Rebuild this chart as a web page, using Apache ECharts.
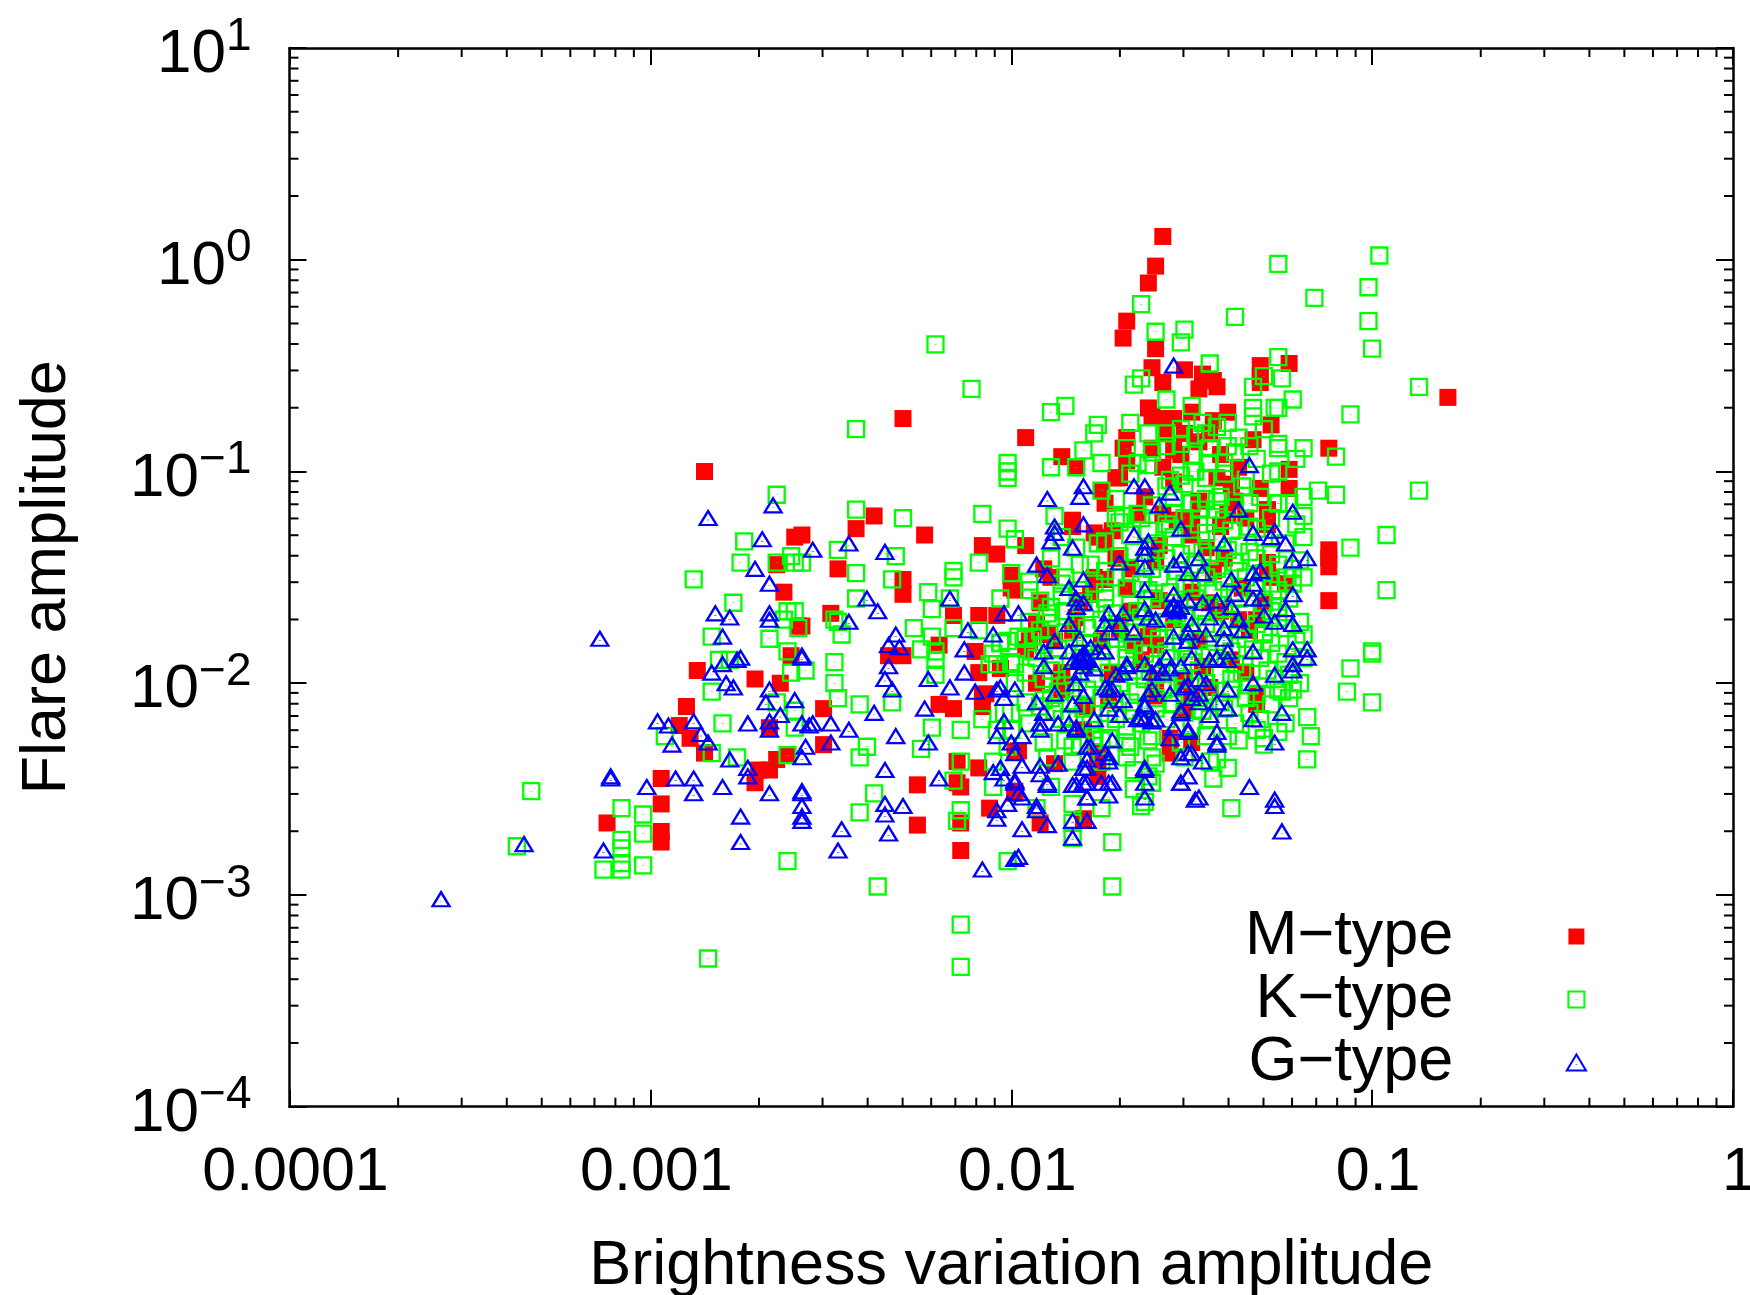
<!DOCTYPE html>
<html><head><meta charset="utf-8">
<style>html,body{margin:0;padding:0;background:#fff}#c{width:1750px;height:1295px}</style>
<script src="https://cdn.jsdelivr.net/npm/echarts@6/dist/echarts.min.js"></script>
</head><body><div id="c"></div>
<script>
// All points are [log10(brightness variation amplitude), log10(flare amplitude)].
const mTypeLog = [[-1.58,0.11],[-1.60,-0.03],[-1.62,-0.11],[-1.68,-0.29],[-1.69,-0.37],[-1.60,-0.42],[-1.61,-0.51],[-1.52,-0.52],[-1.58,-0.58],[-1.47,-0.54],[-1.48,-0.61],[-1.44,-0.57],[-1.43,-0.60],[-1.31,-0.50],[-1.23,-0.49],[-1.31,-0.55],[-1.31,-0.58],[-1.62,-0.70],[-1.61,-0.74],[-1.57,-0.75],[-1.55,-0.75],[-1.28,-0.78],[-0.79,-0.65],[-1.12,-0.89],[-1.44,-0.76],[-1.45,-0.82],[-1.48,-0.86],[-1.52,-0.82],[-1.53,-0.92],[-1.57,-0.82],[-1.68,-0.84],[-1.69,-0.89],[-1.61,-0.89],[-1.68,-0.95],[-1.86,-0.93],[-1.82,-0.98],[-1.58,-0.98],[-1.23,-0.99],[-1.37,-0.98],[-1.70,-1.03],[-1.75,-1.09],[-1.74,-1.15],[-1.63,-1.12],[-1.43,-1.03],[-1.23,-1.08],[-1.31,-1.08],[-1.39,-1.06],[-1.29,-1.18],[-1.58,-1.20],[-1.83,-1.23],[-1.96,-0.84],[-1.29,-1.25],[-1.35,-1.22],[-1.54,-1.23],[-1.42,-1.26],[-1.83,-1.26],[-1.76,-1.31],[-1.96,-1.35],[-2.08,-1.35],[-2.04,-1.39],[-1.71,-1.41],[-1.67,-1.46],[-1.41,-1.41],[-1.91,-1.46],[-1.89,-1.50],[-2.00,-1.49],[-1.99,-1.56],[-1.77,-1.50],[-1.74,-1.51],[-1.29,-1.47],[-1.24,-1.53],[-1.12,-1.37],[-1.12,-1.41],[-1.12,-1.45],[-1.12,-1.61],[-1.81,-1.61],[-2.16,-1.68],[-2.09,-1.68],[-2.04,-1.68],[-1.90,-1.77],[-1.95,-1.80],[-1.96,-1.84],[-1.93,-1.72],[-1.82,-1.69],[-1.34,-1.75],[-1.37,-1.70],[-2.10,-1.85],[-2.09,-1.95],[-2.03,-1.93],[-1.86,-1.95],[-1.93,-2.00],[-2.08,-2.06],[-2.16,-2.12],[-1.32,-2.06],[-1.32,-2.10],[-1.52,-1.99],[-1.50,-2.05],[-1.66,-1.81],[-1.62,-1.78],[-1.60,-2.06],[-1.56,-2.26],[-1.56,-2.33],[-1.50,-2.28],[-1.99,-2.32],[-1.88,-2.38],[-1.76,-2.38],[-1.76,-2.44],[-1.80,-2.22],[-2.09,-2.40],[-2.15,-2.37],[-2.15,-2.47],[-1.99,-2.51],[-2.30,-0.75],[-2.38,-1.21],[-2.43,-1.27],[-2.24,-1.30],[-2.48,-1.46],[-2.30,-1.51],[-2.30,-1.58],[-2.58,-1.30],[-2.50,-1.67],[-2.58,-1.73],[-2.20,-1.82],[-2.34,-1.87],[-2.30,-1.87],[-2.00,-1.50],[-2.00,-1.55],[-1.77,-1.29],[-1.74,-1.33],[-1.71,-1.03],[-2.85,-1.00],[-2.60,-1.31],[-2.65,-1.44],[-2.63,-1.57],[-2.59,-1.73],[-2.87,-1.94],[-2.71,-1.98],[-2.64,-2.00],[-2.90,-2.11],[-2.92,-2.20],[-2.89,-2.26],[-2.85,-2.33],[-2.61,-1.87],[-2.20,-2.10],[-2.52,-2.12],[-2.52,-2.29],[-2.62,-2.34],[-2.65,-2.36],[-2.67,-2.41],[-2.70,-2.41],[-2.71,-2.47],[-2.26,-2.48],[-2.26,-2.67],[-2.14,-2.49],[-2.14,-2.66],[-2.14,-2.79],[-2.06,-2.59],[-2.07,-2.05],[-2.08,-2.11],[-1.92,-2.66],[-1.99,-2.52],[-1.80,-2.64],[-1.86,-1.97],[-1.86,-2.03],[-1.79,-2.11],[-1.76,-2.33],[-1.98,-2.32],[-2.03,-1.93],[-2.97,-2.45],[-2.97,-2.57],[-2.97,-2.70],[-2.97,-2.75],[-3.12,-2.66],[-2.67,-2.21],[-1.29,-1.43],[-1.32,-1.70],[-1.48,-1.14],[-1.59,-1.35],[-1.50,-1.57],[-1.67,-1.66],[-1.59,-1.61],[-1.42,-1.66],[-1.75,-1.80],[-1.64,-1.89],[-1.48,-1.80],[-1.39,-1.89],[-1.73,-2.08],[-1.45,-2.02],[-1.65,-1.20],[-1.55,-1.05],[-1.36,-1.55],[-1.72,-1.28],[-1.60,-1.42],[-1.50,-1.30],[-1.44,-1.47],[-1.78,-1.58],[-1.68,-1.55],[-1.55,-1.70],[-1.45,-1.62],[-1.83,-1.75],[-1.70,-1.75],[-1.60,-1.82],[-1.47,-1.92],[-1.80,-1.90],[-1.72,-1.95],[-1.60,-1.98],[-1.52,-2.12],[-1.35,-1.95],[-1.30,-1.62],[-1.28,-1.50],[-1.40,-1.20],[-1.92,-1.62],[-1.88,-1.80],[-1.50,-0.72],[-1.40,-0.72],[-1.55,-0.90],[-1.42,-0.92],[-1.33,-0.85],[-1.38,-1.14],[-1.50,-1.22],[-1.46,-1.36]];
const kTypeLog = [[-0.98,0.02],[-1.26,-0.02],[-1.01,-0.13],[-1.16,-0.18],[-1.01,-0.29],[-1.00,-0.42],[-1.26,-0.46],[-0.87,-0.60],[-1.22,-0.66],[-1.06,-0.73],[-1.27,-0.70],[-1.25,-0.56],[-1.30,-0.55],[-1.33,-0.60],[-1.26,-0.87],[-1.19,-0.89],[-1.10,-0.93],[-1.32,-0.94],[-1.21,-0.94],[-1.26,-1.00],[-1.15,-1.09],[-1.10,-1.11],[-0.87,-1.09],[-1.19,-1.12],[-1.26,-1.15],[-1.19,-1.21],[-0.96,-1.30],[-1.06,-1.36],[-1.19,-1.31],[-1.19,-1.50],[-1.22,-1.53],[-0.96,-1.56],[-1.19,-1.77],[-1.00,-1.85],[-1.30,-1.77],[-1.38,-0.27],[-1.64,-0.21],[-1.60,-0.34],[-1.52,-0.33],[-1.53,-0.39],[-1.45,-0.49],[-1.64,-0.56],[-1.66,-0.59],[-1.26,-0.70],[-1.33,-0.70],[-1.33,-0.74],[-1.50,-0.69],[-1.57,-0.66],[-1.85,-0.69],[-1.89,-0.72],[-1.40,-0.77],[-1.47,-0.77],[-1.67,-0.77],[-1.76,-0.78],[-1.77,-0.82],[-1.62,-0.82],[-1.57,-0.82],[-1.53,-0.87],[-1.40,-0.88],[-1.46,-0.82],[-1.26,-0.89],[-1.80,-0.90],[-1.68,-0.89],[-1.41,-0.96],[-1.45,-0.96],[-1.75,-0.96],[-1.65,-0.96],[-1.62,-0.97],[-1.53,-1.02],[-1.49,-1.00],[-1.75,-1.09],[-1.82,-0.98],[-1.89,-0.98],[-1.36,-1.07],[-1.42,-1.12],[-1.46,-1.13],[-1.52,-1.06],[-1.57,-1.07],[-1.65,-1.20],[-1.55,-1.20],[-1.48,-1.18],[-1.43,-1.18],[-1.34,-1.15],[-1.26,-1.15],[-1.69,-1.21],[-1.88,-1.21],[-2.21,-0.40],[-2.11,-0.61],[-2.43,-0.80],[-2.01,-0.96],[-2.01,-1.00],[-2.01,-1.03],[-2.43,-1.18],[-2.30,-1.22],[-2.08,-1.20],[-2.01,-1.27],[-1.99,-1.32],[-1.71,-1.22],[-2.48,-1.37],[-2.32,-1.40],[-2.09,-1.43],[-2.43,-1.48],[-2.33,-1.51],[-2.00,-1.48],[-2.16,-1.47],[-2.16,-1.50],[-1.95,-1.56],[-2.23,-1.57],[-2.43,-1.60],[-2.22,-1.65],[-2.03,-1.60],[-2.17,-1.60],[-1.82,-1.36],[-1.76,-1.34],[-1.81,-1.44],[-2.49,-1.70],[-2.47,-1.77],[-2.58,-1.43],[-2.27,-1.74],[-2.16,-1.74],[-2.22,-1.78],[-2.09,-1.75],[-2.25,-1.84],[-2.21,-1.85],[-2.21,-1.89],[-2.49,-1.90],[-2.05,-1.86],[-2.03,-1.81],[-2.01,-1.80],[-1.98,-1.78],[-1.86,-1.53],[-1.89,-1.64],[-1.94,-1.78],[-1.90,-1.67],[-2.65,-1.11],[-2.74,-1.33],[-2.75,-1.43],[-2.88,-1.51],[-2.61,-1.40],[-2.60,-1.43],[-2.65,-1.43],[-2.77,-1.62],[-2.62,-1.66],[-2.60,-1.66],[-2.63,-1.70],[-2.83,-1.78],[-2.67,-1.79],[-2.62,-1.85],[-2.59,-1.74],[-2.48,-1.71],[-2.81,-1.89],[-2.78,-1.89],[-2.06,-1.91],[-2.61,-1.95],[-2.57,-1.94],[-2.49,-2.00],[-2.83,-2.04],[-2.65,-2.09],[-2.48,-2.07],[-2.42,-2.10],[-2.33,-2.09],[-2.60,-2.13],[-2.22,-2.21],[-2.14,-2.22],[-2.80,-2.19],[-2.60,-2.21],[-2.96,-2.25],[-2.83,-2.33],[-2.76,-2.35],[-2.62,-2.34],[-2.40,-2.30],[-2.42,-2.35],[-2.25,-2.31],[-2.08,-2.17],[-2.14,-2.37],[-2.16,-2.46],[-2.38,-2.52],[-3.08,-2.59],[-3.02,-2.62],[-3.02,-2.71],[-3.08,-2.74],[-3.08,-2.78],[-3.08,-2.85],[-3.08,-2.88],[-3.13,-2.88],[-3.02,-2.86],[-2.62,-2.84],[-2.84,-3.30],[-3.33,-2.51],[-3.37,-2.77],[-2.42,-2.61],[-2.14,-2.60],[-2.15,-2.65],[-2.05,-2.49],[-2.01,-2.84],[-2.37,-2.96],[-1.72,-2.75],[-1.72,-2.96],[-2.14,-3.14],[-2.14,-3.34],[-2.21,-1.96],[-2.04,-1.91],[-1.99,-1.91],[-2.02,-2.14],[-2.00,-2.14],[-2.04,-2.22],[-2.00,-2.22],[-2.01,-2.30],[-2.05,-2.37],[-1.91,-2.28],[-1.90,-2.35],[-1.83,-2.30],[-1.83,-2.37],[-1.83,-2.57],[-1.93,-2.59],[-1.75,-2.59],[-1.83,-2.66],[-1.83,-2.73],[-1.89,-2.49],[-1.63,-2.56],[-1.66,-2.50],[-1.61,-2.47],[-1.62,-2.44],[-1.66,-2.41],[-1.61,-2.35],[-1.67,-2.30],[-1.73,-2.26],[-1.75,-2.27],[-1.68,-2.22],[-1.62,-2.27],[-1.81,-2.29],[-1.77,-2.22],[-1.91,-2.08],[-1.92,-2.11],[-1.84,-2.16],[-1.00,-2.09],[-1.18,-2.16],[-1.17,-2.25],[-1.18,-2.36],[-1.26,-2.23],[-1.30,-2.26],[-1.30,-2.29],[-1.32,-2.22],[-1.39,-2.59],[-1.44,-2.45],[-1.40,-2.40],[-1.43,-2.36],[-1.64,-2.58],[-1.40,-2.25],[-1.06,-1.93],[-1.00,-1.86],[-1.07,-2.04],[-1.26,-1.64],[-1.22,-2.03],[-1.26,-2.03],[-1.53,-0.80],[-1.49,-0.83],[-1.43,-0.79],[-1.37,-0.84],[-1.30,-0.80],[-1.61,-0.91],[-1.57,-0.88],[-1.50,-0.92],[-1.45,-0.89],[-1.38,-0.91],[-1.34,-0.88],[-1.67,-1.01],[-1.56,-1.04],[-1.50,-1.00],[-1.46,-1.03],[-1.41,-1.01],[-1.35,-1.04],[-1.28,-1.01],[-1.71,-1.13],[-1.61,-1.16],[-1.55,-1.12],[-1.50,-1.15],[-1.43,-1.14],[-1.38,-1.17],[-1.31,-1.12],[-1.23,-1.15],[-1.70,-1.24],[-1.64,-1.22],[-1.57,-1.25],[-1.52,-1.22],[-1.48,-1.25],[-1.41,-1.23],[-1.34,-1.26],[-1.28,-1.22],[-1.21,-1.25],[-1.86,-1.31],[-1.74,-1.33],[-1.67,-1.30],[-1.60,-1.34],[-1.55,-1.31],[-1.50,-1.35],[-1.43,-1.32],[-1.37,-1.35],[-1.30,-1.31],[-1.24,-1.34],[-1.89,-1.41],[-1.78,-1.44],[-1.70,-1.40],[-1.63,-1.43],[-1.57,-1.41],[-1.49,-1.44],[-1.45,-1.40],[-1.38,-1.43],[-1.32,-1.41],[-1.26,-1.44],[-1.20,-1.42],[-1.95,-1.52],[-1.85,-1.50],[-1.77,-1.53],[-1.71,-1.50],[-1.64,-1.53],[-1.59,-1.50],[-1.52,-1.53],[-1.46,-1.50],[-1.41,-1.52],[-1.35,-1.50],[-1.28,-1.53],[-1.24,-1.50],[-1.92,-1.61],[-1.86,-1.59],[-1.80,-1.62],[-1.74,-1.60],[-1.67,-1.63],[-1.61,-1.60],[-1.55,-1.62],[-1.49,-1.60],[-1.43,-1.63],[-1.37,-1.60],[-1.30,-1.62],[-1.23,-1.60],[-1.95,-1.71],[-1.89,-1.69],[-1.82,-1.72],[-1.75,-1.70],[-1.70,-1.72],[-1.64,-1.69],[-1.57,-1.71],[-1.52,-1.69],[-1.46,-1.72],[-1.39,-1.70],[-1.32,-1.72],[-1.26,-1.69],[-1.20,-1.71],[-2.03,-1.81],[-1.96,-1.79],[-1.91,-1.82],[-1.84,-1.79],[-1.78,-1.81],[-1.71,-1.79],[-1.66,-1.82],[-1.59,-1.79],[-1.53,-1.81],[-1.48,-1.80],[-1.41,-1.82],[-1.35,-1.79],[-1.28,-1.81],[-1.21,-1.80],[-2.00,-1.90],[-1.93,-1.88],[-1.88,-1.91],[-1.81,-1.88],[-1.75,-1.90],[-1.68,-1.88],[-1.61,-1.91],[-1.56,-1.88],[-1.50,-1.90],[-1.43,-1.88],[-1.38,-1.91],[-1.31,-1.88],[-1.24,-1.90],[-1.19,-1.88],[-1.99,-2.00],[-1.91,-1.98],[-1.85,-2.01],[-1.77,-1.98],[-1.70,-2.00],[-1.63,-1.98],[-1.57,-2.01],[-1.52,-1.98],[-1.46,-2.00],[-1.39,-1.98],[-1.34,-2.01],[-1.27,-1.98],[-1.20,-2.00],[-1.96,-2.09],[-1.89,-2.07],[-1.82,-2.10],[-1.75,-2.07],[-1.67,-2.09],[-1.60,-2.07],[-1.55,-2.10],[-1.48,-2.07],[-1.42,-2.09],[-1.35,-2.07],[-1.28,-2.10],[-1.23,-2.07],[-1.95,-2.19],[-1.86,-2.17],[-1.78,-2.19],[-1.71,-2.17],[-1.64,-2.19],[-1.57,-2.17],[-1.50,-2.20],[-1.45,-2.17],[-1.38,-2.19],[-1.31,-2.17],[-1.24,-2.19],[-1.85,-2.27],[-1.77,-2.25],[-1.68,-2.28],[-1.61,-2.25],[-1.53,-2.28],[-1.46,-2.25],[-1.37,-2.27],[-1.75,-2.37],[-1.68,-2.35],[-1.60,-2.38],[-1.52,-2.35],[-1.45,-2.37],[-1.62,-1.28],[-1.56,-1.27],[-1.46,-1.29],[-1.39,-1.28],[-1.32,-1.27],[-1.66,-1.38],[-1.60,-1.37],[-1.53,-1.39],[-1.47,-1.38],[-1.40,-1.37],[-1.34,-1.38],[-1.28,-1.39],[-1.74,-1.47],[-1.67,-1.48],[-1.61,-1.46],[-1.54,-1.47],[-1.48,-1.48],[-1.43,-1.46],[-1.37,-1.47],[-1.30,-1.48],[-1.22,-1.46],[-1.81,-1.56],[-1.74,-1.57],[-1.68,-1.55],[-1.62,-1.56],[-1.56,-1.57],[-1.50,-1.55],[-1.44,-1.56],[-1.38,-1.57],[-1.32,-1.55],[-1.26,-1.56],[-1.85,-1.66],[-1.78,-1.65],[-1.72,-1.67],[-1.65,-1.66],[-1.59,-1.65],[-1.54,-1.67],[-1.47,-1.66],[-1.41,-1.65],[-1.35,-1.67],[-1.28,-1.66],[-1.92,-1.75],[-1.85,-1.76],[-1.79,-1.74],[-1.72,-1.75],[-1.67,-1.76],[-1.61,-1.74],[-1.55,-1.75],[-1.50,-1.76],[-1.44,-1.74],[-1.37,-1.75],[-1.30,-1.76],[-1.24,-1.74],[-1.94,-1.85],[-1.87,-1.84],[-1.80,-1.86],[-1.75,-1.85],[-1.68,-1.84],[-1.63,-1.86],[-1.57,-1.85],[-1.51,-1.84],[-1.45,-1.86],[-1.39,-1.85],[-1.33,-1.84],[-1.26,-1.86],[-1.96,-1.95],[-1.89,-1.94],[-1.83,-1.96],[-1.73,-1.95],[-1.66,-1.94],[-1.60,-1.96],[-1.54,-1.95],[-1.48,-1.94],[-1.42,-1.96],[-1.36,-1.95],[-1.29,-1.94],[-1.23,-1.96],[-1.87,-2.04],[-1.79,-2.03],[-1.72,-2.05],[-1.65,-2.04],[-1.58,-2.03],[-1.52,-2.05],[-1.45,-2.04],[-1.39,-2.03],[-1.32,-2.05],[-1.25,-2.04],[-1.88,-2.13],[-1.80,-2.12],[-1.73,-2.14],[-1.66,-2.13],[-1.60,-2.12],[-1.52,-2.14],[-1.47,-2.13],[-1.41,-2.12],[-1.34,-2.14]];
const gTypeLog = [[-3.14,-1.79],[-2.80,-1.78],[-3.58,-3.02],[-3.35,-2.76],[-3.11,-2.45],[-3.11,-2.44],[-3.01,-2.49],[-2.93,-2.45],[-2.88,-2.45],[-2.88,-2.52],[-2.80,-2.49],[-3.13,-2.79],[-2.75,-2.63],[-2.75,-2.75],[-2.67,-2.52],[-2.58,-2.51],[-2.58,-2.52],[-2.58,-2.58],[-2.58,-2.63],[-2.58,-2.65],[-2.98,-2.18],[-2.95,-2.20],[-2.88,-2.18],[-2.86,-2.24],[-2.84,-2.28],[-2.94,-2.29],[-2.78,-2.36],[-2.73,-2.40],[-2.73,-2.44],[-2.73,-2.19],[-2.67,-2.18],[-2.64,-2.15],[-2.67,-2.22],[-2.58,-2.19],[-2.56,-2.20],[-2.55,-2.19],[-2.57,-2.30],[-2.58,-2.35],[-2.60,-2.08],[-2.68,-2.09],[-2.67,-2.03],[-2.77,-2.02],[-2.79,-2.00],[-2.83,-1.95],[-2.80,-1.91],[-2.76,-1.89],[-2.75,-1.88],[-2.58,-1.88],[-2.58,-1.87],[-2.67,-1.70],[-2.84,-1.22],[-2.66,-1.16],[-2.69,-1.32],[-2.55,-1.37],[-2.45,-1.34],[-2.35,-1.38],[-2.71,-1.46],[-2.67,-1.53],[-2.40,-1.60],[-2.37,-1.66],[-2.82,-1.67],[-2.78,-1.69],[-2.67,-1.67],[-2.45,-1.71],[-2.32,-1.77],[-2.34,-1.82],[-2.31,-1.83],[-2.34,-1.92],[-2.13,-1.84],[-2.35,-1.98],[-2.33,-2.03],[-2.24,-2.12],[-2.23,-1.98],[-2.17,-2.02],[-2.10,-2.04],[-2.13,-1.95],[-2.12,-1.75],[-2.05,-1.77],[-2.17,-1.60],[-2.04,-2.03],[-2.50,-2.19],[-2.50,-2.28],[-2.38,-2.14],[-2.32,-2.25],[-2.23,-2.28],[-2.35,-2.41],[-2.20,-2.45],[-2.35,-2.57],[-2.30,-2.58],[-2.35,-2.62],[-2.47,-2.69],[-2.34,-2.71],[-2.48,-2.79],[-2.45,-2.22],[-2.08,-2.88],[-1.99,-2.83],[-1.98,-2.82],[-2.04,-2.60],[-2.04,-2.64],[-2.01,-2.57],[-1.97,-2.69],[-1.90,-2.67],[-1.93,-2.58],[-1.93,-2.60],[-1.83,-2.65],[-1.79,-2.65],[-1.83,-2.73],[-1.99,-2.47],[-1.99,-2.46],[-1.97,-2.54],[-1.98,-2.52],[-1.90,-2.48],[-2.02,-2.45],[-2.05,-2.42],[-2.03,-2.40],[-1.97,-2.39],[-1.92,-2.39],[-1.92,-2.43],[-1.87,-2.38],[-1.82,-2.48],[-1.79,-2.47],[-1.79,-2.54],[-1.75,-2.47],[-1.72,-2.47],[-1.73,-2.53],[-1.63,-2.40],[-1.63,-2.47],[-1.63,-2.54],[-1.51,-2.44],[-1.53,-2.47],[-1.49,-2.55],[-1.73,-2.35],[-1.79,-2.36],[-1.79,-2.40],[-1.72,-2.27],[-1.78,-2.30],[-1.97,-2.25],[-2.00,-2.28],[-1.99,-2.33],[-2.04,-2.25],[-2.02,-2.18],[-1.92,-2.22],[-1.92,-2.19],[-1.87,-2.19],[-1.84,-2.19],[-1.82,-2.21],[-1.77,-2.17],[-1.73,-2.12],[-1.65,-2.17],[-1.63,-2.17],[-1.60,-2.17],[-1.55,-2.21],[-1.56,-2.26],[-1.51,-2.22],[-1.53,-2.35],[-1.91,-2.14],[-1.93,-2.09],[-1.88,-2.05],[-1.83,-2.10],[-1.80,-2.06],[-1.73,-2.03],[-1.69,-2.08],[-1.63,-2.11],[-1.53,-2.13],[-2.03,-2.02],[-1.99,-2.03],[-2.02,-2.07],[-1.91,-1.92],[-1.82,-2.00],[-1.79,-1.89],[-1.80,-1.92],[-1.74,-2.02],[-1.68,-1.91],[-1.63,-1.91],[-1.59,-1.92],[-1.53,-1.92],[-1.50,-1.88],[-1.69,-1.95],[-1.61,-2.03],[-1.52,-2.02],[-1.50,-2.07],[-1.34,-0.97],[-1.80,-1.07],[-1.81,-1.12],[-1.90,-1.13],[-1.66,-1.07],[-1.63,-1.07],[-1.56,-1.10],[-1.59,-1.16],[-1.37,-1.18],[-1.22,-1.19],[-1.88,-1.26],[-1.88,-1.29],[-1.89,-1.33],[-1.80,-1.25],[-1.83,-1.36],[-1.66,-1.30],[-1.62,-1.33],[-1.63,-1.36],[-1.63,-1.39],[-1.53,-1.27],[-1.41,-1.34],[-1.33,-1.29],[-1.27,-1.28],[-1.28,-1.31],[-1.24,-1.34],[-1.22,-1.42],[-1.18,-1.41],[-1.53,-1.42],[-1.48,-1.41],[-1.55,-1.44],[-1.51,-1.48],[-1.47,-1.48],[-1.70,-1.43],[-1.63,-1.45],[-1.93,-1.44],[-1.90,-1.49],[-1.80,-1.51],[-1.84,-1.55],[-1.33,-1.48],[-1.31,-1.47],[-1.39,-1.51],[-1.33,-1.53],[-1.38,-1.58],[-1.33,-1.60],[-1.31,-1.60],[-1.22,-1.58],[-1.63,-1.56],[-1.55,-1.58],[-1.51,-1.61],[-1.47,-1.62],[-1.43,-1.61],[-1.55,-1.64],[-1.54,-1.65],[-1.39,-1.64],[-1.24,-1.65],[-1.82,-1.60],[-1.80,-1.62],[-1.82,-1.64],[-1.73,-1.67],[-1.69,-1.67],[-1.63,-1.65],[-1.62,-1.69],[-1.84,-1.72],[-1.74,-1.72],[-1.70,-1.72],[-2.02,-1.67],[-1.98,-1.67],[-1.45,-1.69],[-1.27,-1.71],[-1.22,-1.72],[-1.41,-1.74],[-1.41,-1.79],[-1.37,-1.70],[-1.73,-1.76],[-1.66,-1.76],[-1.55,-1.78],[-1.51,-1.76],[-1.51,-1.80],[-1.46,-1.77],[-1.81,-1.79],[-1.88,-1.80],[-1.91,-1.85],[-1.84,-1.85],[-1.80,-1.86],[-1.81,-1.89],[-1.76,-1.85],[-1.74,-1.85],[-1.33,-1.85],[-1.22,-1.84],[-1.18,-1.84],[-1.18,-1.88],[-1.22,-1.91],[-1.22,-1.94],[-1.27,-1.96],[-1.81,-1.95],[-1.82,-2.00],[-1.68,-1.92],[-1.56,-1.93],[-1.45,-1.89],[-1.43,-1.88],[-1.40,-1.85],[-1.40,-1.89],[-1.71,-1.96],[-1.61,-1.95],[-1.58,-1.95],[-1.48,-1.98],[-1.33,-2.00],[-1.51,-2.01],[-1.72,-2.03],[-1.62,-2.05],[-1.63,-2.10],[-1.48,-2.05],[-1.40,-2.03],[-1.48,-2.09],[-1.43,-2.09],[-1.45,-2.15],[-1.53,-2.14],[-1.61,-2.18],[-1.64,-2.16],[-1.82,-2.22],[-1.79,-2.30],[-1.74,-2.33],[-1.51,-2.23],[-1.43,-2.23],[-1.43,-2.29],[-1.27,-2.28],[-1.33,-2.17],[-1.25,-2.14],[-1.51,-2.33],[-1.47,-2.37],[-1.34,-2.49],[-1.63,-2.41],[-1.53,-2.47],[-1.90,-2.47],[-1.83,-2.48],[-1.80,-2.40],[-1.73,-2.37],[-1.73,-2.47],[-1.80,-2.47],[-1.48,-2.54],[-1.27,-2.55],[-1.79,-2.54],[-1.27,-2.58],[-1.25,-2.70],[-1.50,-2.33],[-1.43,-2.28],[-1.55,-0.50],[-1.80,-1.87],[-1.81,-1.88],[-1.79,-1.88],[-1.80,-1.90],[-1.55,-1.63],[-1.54,-1.66],[-1.56,-1.65],[-1.53,-1.64],[-1.78,-1.83],[-1.83,-1.90],[-1.77,-1.93],[-1.60,-1.70],[-1.50,-1.72],[-1.57,-1.88],[-1.46,-2.00],[-1.36,-1.75],[-1.30,-1.68],[-1.70,-2.15],[-1.56,-2.05],[-1.40,-2.12]];

const xTickLabels = ['0.0001','0.001','0.01','0.1','1'];
const yTickExponents = ['\u22124','\u22123','\u22122','\u22121','0','1'];
const xMinorTicks = [-4,-3,-2,-1].flatMap(e=>[2,3,4,5,6,7,8,9].map(m=>m*Math.pow(10,e)));
const yMinorTicks = [-4,-3,-2,-1,0].flatMap(e=>[2,3,4,5,6,7,8,9].map(m=>m*Math.pow(10,e)));
const toValues = pts => pts.map(p=>[Math.pow(10,p[0]),Math.pow(10,p[1])]);

const FONT='"Liberation Sans", Arial, sans-serif';
const SQUARE='path://M0 0H16V16H0Z M8 7.8V8.2';
const TRI='path://M0 15L9 0L18 15Z M9 9.4V9.8';
const FRAME={lineStyle:{color:'#000',width:2.5}};
const tick={show:true,inside:true,length:17,lineStyle:{color:'#000',width:2}};
const X0=1e-4,X1=1,Y0=1e-4,Y1=10;

function minorX(params,api){
  const v=api.value(0), a=api.coord([v,Y0]), b=api.coord([v,Y1]);
  const st={stroke:'#000',lineWidth:2,fill:null};
  return {type:'group',children:[
    {type:'line',shape:{x1:a[0],y1:a[1],x2:a[0],y2:a[1]-9},style:st},
    {type:'line',shape:{x1:b[0],y1:b[1],x2:b[0],y2:b[1]+9},style:st}]};
}
function minorY(params,api){
  const v=api.value(1), a=api.coord([X0,v]), b=api.coord([X1,v]);
  const st={stroke:'#000',lineWidth:2,fill:null};
  return {type:'group',children:[
    {type:'line',shape:{x1:a[0],y1:a[1],x2:a[0]+9,y2:a[1]},style:st},
    {type:'line',shape:{x1:b[0],y1:b[1],x2:b[0]-9,y2:b[1]},style:st}]};
}

const chart=echarts.init(document.getElementById('c'),null,{renderer:'canvas'});
chart.setOption({
  animation:false,
  backgroundColor:'#fff',
  textStyle:{fontFamily:FONT,color:'#000'},
  grid:{left:289.5,right:17,top:48,bottom:188.3,containLabel:false,outerBoundsMode:'none'},
  legend:{
    show:true,orient:'vertical',align:'right',right:158,top:900,
    itemWidth:236,itemHeight:16,itemGap:0,
    selectedMode:false,
    textStyle:{fontFamily:FONT,fontSize:63,color:'#000',lineHeight:55},
    data:[{name:'M\u2212type',icon:'path://M0 0H16V16H0Z'},{name:'K\u2212type',icon:SQUARE},{name:'G\u2212type',icon:TRI}]
  },
  xAxis:[{
    type:'log',logBase:10,min:X0,max:X1,position:'bottom',
    name:'Brightness variation amplitude',nameLocation:'middle',nameGap:128,
    nameTextStyle:{fontFamily:FONT,fontSize:63,color:'#000'},
    axisLine:{show:true,...FRAME},axisTick:tick,splitLine:{show:false},minorTick:{show:false},
    axisLabel:{show:true,margin:36,fontFamily:FONT,fontSize:61,color:'#000',padding:[0,0,0,12],
      formatter:v=>xTickLabels[Math.round(Math.log10(v))+4]}
  },{
    type:'log',logBase:10,min:X0,max:X1,position:'top',
    axisLine:{show:true,...FRAME},axisTick:tick,splitLine:{show:false},axisLabel:{show:false}
  }],
  yAxis:[{
    type:'log',logBase:10,min:Y0,max:Y1,position:'left',
    name:'Flare amplitude',nameLocation:'middle',nameGap:210,nameRotate:90,
    nameTextStyle:{fontFamily:FONT,fontSize:63,color:'#000'},
    axisLine:{show:true,...FRAME},axisTick:tick,splitLine:{show:false},minorTick:{show:false},
    axisLabel:{show:true,margin:38,
      formatter:v=>'{b|10}{s|'+yTickExponents[Math.round(Math.log10(v))+4]+'}',
      rich:{b:{fontFamily:FONT,fontSize:62,color:'#000',padding:[14,0,0,0]},
            s:{fontFamily:FONT,fontSize:46,color:'#000',padding:[0,0,22,0]}}}
  },{
    type:'log',logBase:10,min:Y0,max:Y1,position:'right',
    axisLine:{show:true,...FRAME},axisTick:tick,splitLine:{show:false},axisLabel:{show:false}
  }],
  series:[
    {type:'custom',name:'xminor',silent:true,renderItem:minorX,clip:false,z:5,data:xMinorTicks.map(v=>[v,Y0])},
    {type:'custom',name:'yminor',silent:true,renderItem:minorY,clip:false,z:5,data:yMinorTicks.map(v=>[X0,v])},
    {type:'scatter',name:'M\u2212type',symbol:'rect',symbolSize:17,silent:true,z:2,
      itemStyle:{color:'#ff0000',opacity:1},data:toValues(mTypeLog)},
    {type:'scatter',name:'K\u2212type',symbol:SQUARE,symbolSize:16,silent:true,z:3,
      itemStyle:{color:'transparent',borderColor:'#00ff00',borderWidth:2.3,opacity:1},data:toValues(kTypeLog)},
    {type:'scatter',name:'G\u2212type',symbol:TRI,symbolSize:[17,14],silent:true,z:4,
      itemStyle:{color:'transparent',borderColor:'#0000ff',borderWidth:2.3,opacity:1},data:toValues(gTypeLog)}
  ]
});
</script></body></html>
